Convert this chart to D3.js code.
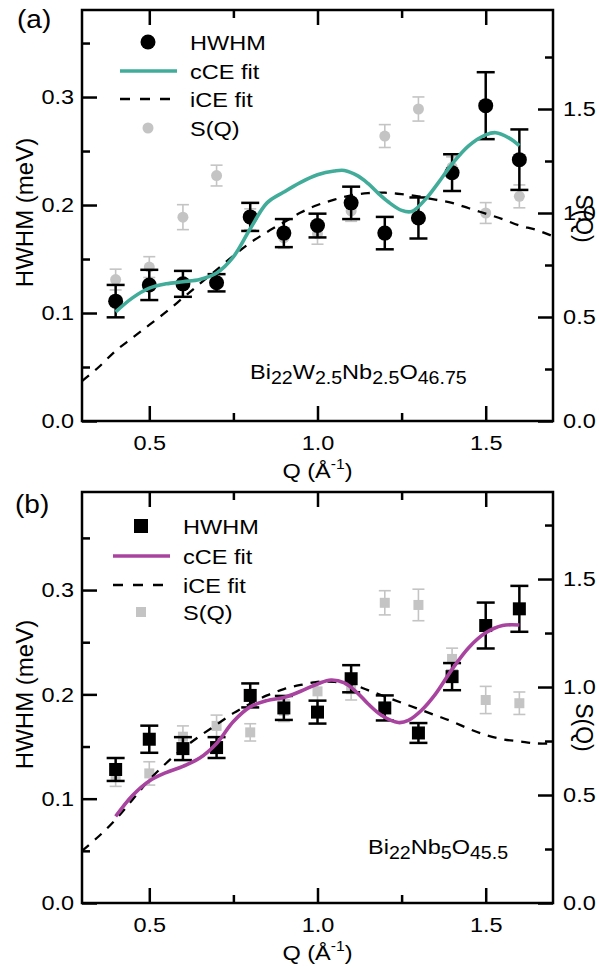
<!DOCTYPE html>
<html>
<head>
<meta charset="utf-8">
<script src="https://cdn.jsdelivr.net/npm/d3@7"></script>
<style>
    body { margin: 0; background: #fff; }
    text { font-family: "Liberation Sans", Arial, sans-serif; fill: #000; }
</style>
</head>
<body>
<div id="chart"></div>
<script>
// Q points shared by both panels
var qValues = [0.4, 0.5, 0.6, 0.7, 0.8, 0.9, 1.0, 1.1, 1.2, 1.3, 1.4, 1.5, 1.6];

// Panel (a): Bi22W2.5Nb2.5O46.75
var hwhmA    = [0.111, 0.126, 0.127, 0.128, 0.189, 0.174, 0.181, 0.202, 0.174, 0.188, 0.230, 0.292, 0.242];
var hwhmErrA = [0.015, 0.014, 0.012, 0.008, 0.013, 0.013, 0.011, 0.015, 0.015, 0.019, 0.017, 0.031, 0.028];
var sqA      = [0.68, 0.74, 0.98, 1.18, 0.97, 0.88, 0.90, 1.01, 1.37, 1.50, 1.22, 1.00, 1.08];
var sqErrA   = [0.05, 0.05, 0.06, 0.05, 0.05, 0.05, 0.05, 0.05, 0.055, 0.058, 0.05, 0.05, 0.055];
var cceQA = [0.40, 0.45, 0.50, 0.55, 0.60, 0.65, 0.70, 0.75, 0.80, 0.85, 0.90, 0.95, 1.00, 1.05, 1.08,
             1.12, 1.15, 1.18, 1.21, 1.25, 1.28, 1.32, 1.36, 1.40, 1.45, 1.50, 1.53, 1.57, 1.60];
var cceA  = [0.101, 0.114, 0.123, 0.127, 0.129, 0.131, 0.137, 0.152, 0.178, 0.202, 0.212, 0.221, 0.228, 0.2315, 0.232,
             0.227, 0.220, 0.211, 0.203, 0.195, 0.194, 0.205, 0.221, 0.238, 0.255, 0.265, 0.267, 0.262, 0.255];
var iceQA = [0.30, 0.35, 0.40, 0.45, 0.50, 0.55, 0.60, 0.65, 0.70, 0.75, 0.80, 0.85, 0.90, 0.95, 1.00,
             1.05, 1.10, 1.15, 1.20, 1.25, 1.30, 1.35, 1.40, 1.45, 1.50, 1.55, 1.60, 1.65, 1.70];
var iceA  = [0.037, 0.050, 0.065, 0.077, 0.089, 0.101, 0.114, 0.127, 0.140, 0.153, 0.165, 0.175, 0.184, 0.193, 0.200,
             0.205, 0.209, 0.211, 0.2114, 0.210, 0.208, 0.205, 0.202, 0.197, 0.192, 0.187, 0.181, 0.177, 0.171];

// Panel (b): Bi22Nb5O45.5
var hwhmB    = [0.128, 0.157, 0.148, 0.149, 0.199, 0.187, 0.183, 0.215, 0.187, 0.163, 0.217, 0.266, 0.282];
var hwhmErrB = [0.011, 0.013, 0.011, 0.010, 0.0115, 0.0115, 0.011, 0.013, 0.012, 0.0095, 0.013, 0.022, 0.022];
var sqB      = [0.59, 0.60, 0.77, 0.82, 0.79, 0.89, 0.98, 0.99, 1.39, 1.38, 1.13, 0.94, 0.925];
var sqErrB   = [0.05, 0.054, 0.05, 0.05, 0.04, 0.05, 0.045, 0.05, 0.056, 0.073, 0.05, 0.063, 0.052];
var cceQB = [0.40, 0.45, 0.50, 0.55, 0.60, 0.65, 0.70, 0.75, 0.80, 0.85, 0.90, 0.95, 1.00, 1.04, 1.08,
             1.12, 1.15, 1.19, 1.24, 1.27, 1.31, 1.35, 1.40, 1.45, 1.50, 1.55, 1.60];
var cceB  = [0.083, 0.103, 0.117, 0.125, 0.131, 0.139, 0.153, 0.174, 0.188, 0.194, 0.197, 0.203, 0.210, 0.2138, 0.211,
             0.201, 0.191, 0.180, 0.173, 0.175, 0.185, 0.200, 0.224, 0.245, 0.259, 0.266, 0.2665];
var iceQB = [0.30, 0.35, 0.40, 0.45, 0.50, 0.55, 0.60, 0.65, 0.70, 0.75, 0.80, 0.85, 0.90, 0.95, 1.00,
             1.05, 1.10, 1.15, 1.20, 1.25, 1.30, 1.35, 1.40, 1.45, 1.50, 1.55, 1.60, 1.65, 1.70];
var iceB  = [0.050, 0.064, 0.080, 0.099, 0.118, 0.134, 0.148, 0.160, 0.171, 0.182, 0.191, 0.199, 0.205, 0.209, 0.212,
             0.212, 0.210, 0.204, 0.198, 0.192, 0.186, 0.180, 0.174, 0.167, 0.161, 0.157, 0.155, 0.153, 0.153];

// Ticks
var xTicks = [0.5, 1.0, 1.5];
var xMinorTicks = [0.75, 1.25];
var leftTicks = [0.0, 0.1, 0.2, 0.3];
var leftMinorTicks = [0.05, 0.15, 0.25, 0.35];
var rightTicks = [0.0, 0.5, 1.0, 1.5];
var rightMinorTicks = [0.25, 0.75, 1.25, 1.75];

var legendLabels = ["HWHM", "cCE fit", "iCE fit", "S(Q)"];

var W = 599, H = 966;
var STRETCH = "scale(1.12,1)";
var grey = "#c4c4c4";

var svg = d3.select("#chart").append("svg")
    .attr("width", W)
    .attr("height", H);

function stretchText(sel) {
    sel.selectAll("text").attr("transform", STRETCH);
}

function drawPanel(p) {
    var g = svg.append("g");

    var x = d3.scaleLinear().domain([0.3, 1.7]).range([p.left, p.right]);
    var yL = d3.scaleLinear().domain(p.leftDomain).range([p.bottom, p.top]);
    var yR = d3.scaleLinear().domain(p.rightDomain).range([p.bottom, p.top]);

    // Axes (major ticks with labels, minor ticks without)
    function addAxis(axis, tr) {
        var a = g.append("g").attr("transform", tr).call(axis);
        a.attr("font-size", null).attr("font-family", null);
        a.select(".domain").remove();
        a.selectAll("line").attr("stroke", "#000").attr("stroke-width", 2.5);
        a.selectAll("text").style("font-size", "21px");
        stretchText(a);
        return a;
    }
    var fmt = d3.format(".1f");

    addAxis(d3.axisBottom(x).tickValues(xTicks).tickSizeInner(-15).tickSizeOuter(0).tickPadding(14).tickFormat(fmt),
        "translate(0," + p.bottom + ")");
    addAxis(d3.axisBottom(x).tickValues(xMinorTicks).tickSizeInner(-8).tickSizeOuter(0).tickFormat(""),
        "translate(0," + p.bottom + ")");
    addAxis(d3.axisTop(x).tickValues(xTicks).tickSizeInner(-15).tickSizeOuter(0).tickFormat(""),
        "translate(0," + p.top + ")");
    addAxis(d3.axisTop(x).tickValues(xMinorTicks).tickSizeInner(-8).tickSizeOuter(0).tickFormat(""),
        "translate(0," + p.top + ")");
    addAxis(d3.axisLeft(yL).tickValues(leftTicks).tickSizeInner(-15).tickSizeOuter(0).tickPadding(7).tickFormat(fmt),
        "translate(" + p.left + ",0)");
    addAxis(d3.axisLeft(yL).tickValues(leftMinorTicks).tickSizeInner(-8).tickSizeOuter(0).tickFormat(""),
        "translate(" + p.left + ",0)");
    addAxis(d3.axisRight(yR).tickValues(rightTicks).tickSizeInner(-15).tickSizeOuter(0).tickPadding(9).tickFormat(fmt),
        "translate(" + p.right + ",0)");
    addAxis(d3.axisRight(yR).tickValues(rightMinorTicks).tickSizeInner(-8).tickSizeOuter(0).tickFormat(""),
        "translate(" + p.right + ",0)");

    // Frame
    g.append("rect")
        .attr("x", p.left).attr("y", p.top)
        .attr("width", p.right - p.left).attr("height", p.bottom - p.top)
        .attr("fill", "none").attr("stroke", "#000").attr("stroke-width", 2.5);

    var sq = qValues.map(function (q, i) { return {q: q, v: p.sq[i], e: p.sqErr[i]}; });
    var hw = qValues.map(function (q, i) { return {q: q, v: p.hwhm[i], e: p.hwhmErr[i]}; });

    function errorBars(data, scale, color, width, cap) {
        var eb = g.append("g").attr("stroke", color).attr("stroke-width", width);
        eb.selectAll(".v").data(data).enter().append("line")
            .attr("x1", function (d) { return x(d.q); }).attr("x2", function (d) { return x(d.q); })
            .attr("y1", function (d) { return scale(d.v - d.e); }).attr("y2", function (d) { return scale(d.v + d.e); });
        [-1, 1].forEach(function (s) {
            eb.selectAll(".c" + s).data(data).enter().append("line")
                .attr("x1", function (d) { return x(d.q) - cap; }).attr("x2", function (d) { return x(d.q) + cap; })
                .attr("y1", function (d) { return scale(d.v + s * d.e); }).attr("y2", function (d) { return scale(d.v + s * d.e); });
        });
    }

    // S(Q) points (grey, behind)
    errorBars(sq, yR, grey, 1.6, 6);
    if (p.square) {
        g.selectAll(".sqpt").data(sq).enter().append("rect")
            .attr("x", function (d) { return x(d.q) - 5; }).attr("y", function (d) { return yR(d.v) - 5; })
            .attr("width", 10).attr("height", 10).attr("fill", grey);
    } else {
        g.selectAll(".sqpt").data(sq).enter().append("circle")
            .attr("cx", function (d) { return x(d.q); }).attr("cy", function (d) { return yR(d.v); })
            .attr("r", 5.5).attr("fill", grey);
    }

    // HWHM points (black)
    errorBars(hw, yL, "#000", 2.5, 9);
    if (p.square) {
        g.selectAll(".hwpt").data(hw).enter().append("rect")
            .attr("x", function (d) { return x(d.q) - 6.5; }).attr("y", function (d) { return yL(d.v) - 6.5; })
            .attr("width", 13).attr("height", 13).attr("fill", "#000");
    } else {
        g.selectAll(".hwpt").data(hw).enter().append("circle")
            .attr("cx", function (d) { return x(d.q); }).attr("cy", function (d) { return yL(d.v); })
            .attr("r", 7.5).attr("fill", "#000");
    }

    // Fits
    var line = d3.line()
        .x(function (d) { return x(d[0]); })
        .y(function (d) { return yL(d[1]); })
        .curve(d3.curveCatmullRom);

    g.append("path")
        .datum(p.iceQ.map(function (q, i) { return [q, p.ice[i]]; }))
        .attr("d", line)
        .attr("fill", "none").attr("stroke", "#000").attr("stroke-width", 2.3)
        .attr("stroke-dasharray", "9,8");

    g.append("path")
        .datum(p.cceQ.map(function (q, i) { return [q, p.cce[i]]; }))
        .attr("d", line)
        .attr("fill", "none").attr("stroke", p.color).attr("stroke-width", 3.6);

    // Legend
    var lg = g.append("g");
    var rows = p.legendRows;
    if (p.square) {
        lg.append("rect").attr("x", p.legMarkX - 7).attr("y", rows[0] - 7).attr("width", 14).attr("height", 14).attr("fill", "#000");
        lg.append("rect").attr("x", p.legMarkX - 5).attr("y", rows[3] - 5).attr("width", 10).attr("height", 10).attr("fill", grey);
    } else {
        lg.append("circle").attr("cx", p.legMarkX).attr("cy", rows[0]).attr("r", 7.5).attr("fill", "#000");
        lg.append("circle").attr("cx", p.legMarkX).attr("cy", rows[3]).attr("r", 5.5).attr("fill", grey);
    }
    lg.append("line").attr("x1", p.legLine[0]).attr("x2", p.legLine[1]).attr("y1", rows[1]).attr("y2", rows[1])
        .attr("stroke", p.color).attr("stroke-width", 3.6);
    lg.append("line").attr("x1", p.legLine[0]).attr("x2", p.legLine[1]).attr("y1", rows[2]).attr("y2", rows[2])
        .attr("stroke", "#000").attr("stroke-width", 2.3).attr("stroke-dasharray", "10,10");
    legendLabels.forEach(function (t, i) {
        lg.append("text")
            .attr("transform", "translate(" + p.legTextX + "," + (rows[i] + 7.5) + ") " + STRETCH)
            .style("font-size", "21px")
            .text(t);
    });

    // Panel letter
    g.append("text")
        .attr("transform", "translate(" + p.letterPos[0] + "," + p.letterPos[1] + ") " + STRETCH)
        .style("font-size", "25px")
        .text(p.letter);

    // Compound formula with subscripts
    var ft = g.append("text")
        .attr("transform", "translate(" + p.formulaPos[0] + "," + p.formulaPos[1] + ") " + STRETCH);
    var shifted = false;
    p.formula.forEach(function (part) {
        var sub = part[1];
        var ts = ft.append("tspan").text(part[0]).style("font-size", sub ? "17.5px" : "21px");
        if (sub && !shifted) { ts.attr("dy", 5); shifted = true; }
        else if (!sub && shifted) { ts.attr("dy", -5); shifted = false; }
    });

    // Axis titles
    var cx = (p.left + p.right) / 2;
    var xt = g.append("text")
        .attr("transform", "translate(" + cx + "," + (p.bottom + 57) + ") " + STRETCH)
        .attr("text-anchor", "middle")
        .style("font-size", "21px");
    xt.append("tspan").text("Q (Å");
    xt.append("tspan").text("-1").style("font-size", "14px").attr("dy", -9);
    xt.append("tspan").text(")").attr("dy", 9);

    var cy = (p.top + p.bottom) / 2;
    g.append("text")
        .attr("transform", "translate(33," + (cy - 3) + ") rotate(-90)")
        .attr("text-anchor", "middle")
        .style("font-size", "24px")
        .text("HWHM (meV)");
    g.append("text")
        .attr("transform", "translate(576," + (cy + p.sqLabelShift) + ") rotate(90)")
        .attr("text-anchor", "middle")
        .style("font-size", "23px")
        .text("S(Q)");
}

drawPanel({
    left: 82, right: 553, top: 10, bottom: 421,
    leftDomain: [0, 0.3806], rightDomain: [0, 1.976],
    hwhm: hwhmA, hwhmErr: hwhmErrA, sq: sqA, sqErr: sqErrA,
    cceQ: cceQA, cce: cceA, iceQ: iceQA, ice: iceA,
    color: "#41ac99", square: false,
    legendRows: [42, 71, 99, 128], legMarkX: 148, legLine: [120, 177], legTextX: 190,
    letter: "(a)", letterPos: [17, 28],
    formula: [["Bi", 0], ["22", 1], ["W", 0], ["2.5", 1], ["Nb", 0], ["2.5", 1], ["O", 0], ["46.75", 1]],
    formulaPos: [250, 379],
    sqLabelShift: 3
});

drawPanel({
    left: 82, right: 553, top: 492, bottom: 903,
    leftDomain: [0, 0.394], rightDomain: [0, 1.903],
    hwhm: hwhmB, hwhmErr: hwhmErrB, sq: sqB, sqErr: sqErrB,
    cceQ: cceQB, cce: cceB, iceQ: iceQB, ice: iceB,
    color: "#a8449f", square: true,
    legendRows: [526, 556, 585, 612], legMarkX: 141, legLine: [113, 170], legTextX: 183,
    letter: "(b)", letterPos: [15, 513],
    formula: [["Bi", 0], ["22", 1], ["Nb", 0], ["5", 1], ["O", 0], ["45.5", 1]],
    formulaPos: [368, 854],
    sqLabelShift: 30
});
</script>
</body>
</html>
